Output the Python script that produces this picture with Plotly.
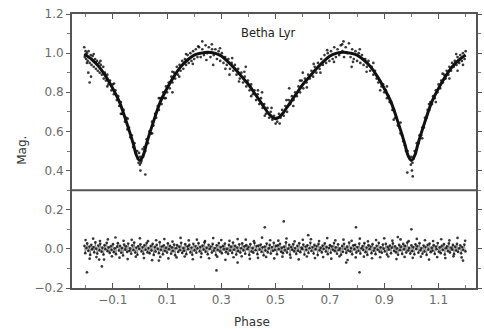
import plotly.graph_objects as go

# ---- model light curve ----
model_phase = [-0.205, -0.175, -0.15, -0.125, -0.10, -0.075, -0.05, -0.025, -0.0125, 0.00, 0.0125, 0.025,
               0.05, 0.075, 0.10, 0.125, 0.15, 0.175, 0.20, 0.225, 0.25, 0.275, 0.30, 0.325, 0.35,
               0.375, 0.40, 0.425, 0.45, 0.475, 0.4875, 0.50, 0.5125, 0.525, 0.55, 0.575, 0.60,
               0.625, 0.65, 0.675, 0.70, 0.725, 0.75, 0.775, 0.80, 0.825, 0.85, 0.875, 0.90, 0.925,
               0.95, 0.975, 0.9875, 1.00, 1.0125, 1.025, 1.05, 1.075, 1.10, 1.125, 1.15, 1.175, 1.20]
model_mag = [0.995, 0.965, 0.93, 0.88, 0.82, 0.75, 0.65, 0.54, 0.478, 0.452, 0.478, 0.54,
             0.65, 0.75, 0.82, 0.88, 0.93, 0.965, 0.99, 1.00, 1.005, 1.00, 0.985, 0.955, 0.92,
             0.88, 0.84, 0.79, 0.74, 0.69, 0.673, 0.665, 0.673, 0.69, 0.74, 0.79, 0.84,
             0.88, 0.92, 0.955, 0.985, 1.00, 1.005, 1.00, 0.99, 0.965, 0.93, 0.88, 0.82, 0.75,
             0.65, 0.54, 0.478, 0.452, 0.478, 0.54, 0.65, 0.75, 0.82, 0.88, 0.93, 0.965, 0.99]

# ---- observed points (upper panel) ----
obs_phase = [-0.205, -0.203, -0.200, -0.198, -0.195, -0.192, -0.189, -0.185, -0.181, -0.178,
             -0.174, -0.170, -0.165, -0.162, -0.158, -0.155, -0.150, -0.148, -0.144, -0.140,
             -0.135, -0.133, -0.129, -0.125, -0.120, -0.116, -0.110, -0.105, -0.100, -0.096,
             -0.090, -0.085, -0.080, -0.076, -0.070, -0.066, -0.060, -0.055, -0.050, -0.046,
             -0.040, -0.035, -0.030, -0.025, -0.020, -0.015, -0.010, -0.008, -0.005, -0.003,
             0.000, 0.001, 0.002, 0.004, 0.006, 0.010, 0.012, 0.016, 0.020, 0.025,
             0.030, 0.035, 0.041, 0.045, 0.050, 0.056, 0.060, 0.066, 0.070, 0.076,
             0.080, 0.086, 0.090, 0.096, 0.100, 0.106, 0.110, 0.116, 0.120, 0.126,
             0.130, 0.136, 0.140, 0.146, 0.150, 0.156, 0.160, 0.166, 0.170, 0.176,
             0.180, 0.186, 0.190, 0.196, 0.200, 0.206, 0.212, 0.218, 0.224, 0.230,
             0.236, 0.242, 0.248, 0.254, 0.260, 0.266, 0.272, 0.278, 0.284, 0.290,
             0.296, 0.302, 0.308, 0.314, 0.320, 0.326, 0.332, 0.338, 0.344, 0.350,
             0.356, 0.362, 0.368, 0.374, 0.380, 0.386, 0.392, 0.398, 0.404, 0.410,
             0.416, 0.422, 0.428, 0.434, 0.440, 0.446, 0.452, 0.458, 0.464, 0.470,
             0.476, 0.482, 0.488, 0.494, 0.500, 0.503, 0.506, 0.512, 0.518, 0.524,
             0.530, 0.536, 0.542, 0.548, 0.554, 0.560, 0.566, 0.572, 0.578, 0.584,
             0.590, 0.596, 0.602, 0.608, 0.614, 0.620, 0.626, 0.632, 0.638, 0.644,
             0.650, 0.656, 0.662, 0.668, 0.674, 0.680, 0.686, 0.692, 0.698, 0.704,
             0.710, 0.716, 0.722, 0.728, 0.734, 0.740, 0.746, 0.752, 0.758, 0.764,
             0.770, 0.776, 0.782, 0.788, 0.794, 0.800, 0.806, 0.812, 0.818, 0.824,
             0.830, 0.836, 0.842, 0.848, 0.854, 0.860, 0.866, 0.872, 0.878, 0.884,
             0.890, 0.896, 0.900, 0.906, 0.910, 0.916, 0.920, 0.926, 0.930, 0.936,
             0.940, 0.946, 0.950, 0.956, 0.960, 0.966, 0.970, 0.976, 0.980, 0.986,
             0.990, 0.994, 0.998, 1.000, 1.002, 1.004, 1.008, 1.012, 1.016, 1.020,
             1.026, 1.030, 1.036, 1.040, 1.046, 1.050, 1.056, 1.060, 1.066, 1.070,
             1.076, 1.080, 1.086, 1.090, 1.096, 1.100, 1.106, 1.110, 1.116, 1.120,
             1.126, 1.130, 1.136, 1.140, 1.146, 1.150, 1.156, 1.160, 1.166, 1.170,
             1.176, 1.180, 1.186, 1.190, 1.196, 1.200,
             -0.190, -0.180, 0.020, 0.985, 1.005, 0.270, 0.330, 0.390, 0.550, 0.120,
             0.450, 0.600, 0.780, 1.170, 0.750, 0.230, -0.185,
             -0.195, -0.170, -0.145, -0.120, -0.095, -0.070, -0.045, 0.045, 0.070, 0.095,
             0.120, 0.145, 0.170, 0.195, 0.215, 0.245, 0.265, 0.295, 0.315, 0.340,
             0.365, 0.385, 0.410, 0.435, 0.460, 0.485, 0.515, 0.540, 0.565, 0.590,
             0.615, 0.640, 0.665, 0.690, 0.715, 0.745, 0.785, 0.810, 0.835, 0.860,
             0.885, 0.910, 0.935, 0.960, 1.040, 1.065, 1.090, 1.115, 1.140, 1.165, 1.190]
obs_mag = [1.03, 0.98, 1.01, 0.97, 1.00, 0.96, 1.01, 0.95, 0.99, 0.94,
           0.985, 0.93, 0.97, 0.92, 0.96, 0.91, 0.95, 0.90, 0.94, 0.89,
           0.93, 0.87, 0.90, 0.86, 0.89, 0.84, 0.86, 0.81, 0.84, 0.79,
           0.81, 0.76, 0.78, 0.73, 0.75, 0.69, 0.71, 0.65, 0.67, 0.61,
           0.62, 0.57, 0.58, 0.52, 0.54, 0.49, 0.50, 0.46, 0.44, 0.49,
           0.43, 0.47, 0.40, 0.44, 0.45, 0.51, 0.47, 0.52, 0.50, 0.56,
           0.54, 0.60, 0.59, 0.65, 0.63, 0.69, 0.67, 0.73, 0.71, 0.77,
           0.74, 0.80, 0.77, 0.83, 0.80, 0.85, 0.82, 0.88, 0.85, 0.90,
           0.87, 0.93, 0.89, 0.94, 0.91, 0.96, 0.92, 0.97, 0.94, 0.99,
           0.95, 1.00, 0.96, 1.01, 0.97, 1.02, 0.98, 1.03, 0.98, 1.02,
           0.99, 1.04, 1.00, 1.03, 0.98, 1.02, 0.99, 1.02, 0.97, 1.01,
           0.96, 1.00, 0.95, 0.98, 0.94, 0.97, 0.92, 0.95, 0.91, 0.94,
           0.89, 0.92, 0.87, 0.90, 0.85, 0.88, 0.83, 0.86, 0.81, 0.84,
           0.79, 0.81, 0.76, 0.79, 0.74, 0.77, 0.72, 0.74, 0.69, 0.72,
           0.67, 0.70, 0.66, 0.68, 0.64, 0.67, 0.65, 0.69, 0.67, 0.71,
           0.68, 0.73, 0.70, 0.76, 0.74, 0.78, 0.76, 0.80, 0.78, 0.83,
           0.80, 0.86, 0.82, 0.87, 0.85, 0.89, 0.87, 0.91, 0.88, 0.93,
           0.90, 0.95, 0.92, 0.97, 0.94, 0.99, 0.95, 1.00, 0.96, 1.01,
           0.97, 1.03, 0.98, 1.02, 0.99, 1.04, 1.01, 0.98, 1.03, 1.00,
           1.05, 0.98, 1.02, 0.97, 1.01, 0.96, 1.00, 0.95, 0.99, 0.94,
           0.97, 0.93, 0.96, 0.91, 0.93, 0.89, 0.91, 0.87, 0.85, 0.86,
           0.83, 0.84, 0.80, 0.81, 0.77, 0.78, 0.75, 0.75, 0.71, 0.71,
           0.67, 0.67, 0.63, 0.62, 0.59, 0.58, 0.55, 0.53, 0.50, 0.50,
           0.47, 0.46, 0.43, 0.47, 0.40, 0.44, 0.46, 0.50, 0.49, 0.54,
           0.54, 0.58, 0.58, 0.62, 0.62, 0.67, 0.67, 0.71, 0.71, 0.75,
           0.74, 0.78, 0.77, 0.81, 0.80, 0.84, 0.82, 0.86, 0.85, 0.89,
           0.87, 0.91, 0.89, 0.93, 0.91, 0.95, 0.93, 0.96, 0.94, 0.98,
           0.95, 0.99, 0.96, 1.00, 0.97, 1.01,
           0.90, 0.88, 0.38, 0.39, 0.37, 0.94, 0.89, 0.93, 0.82, 0.80,
           0.80, 0.90, 0.93, 0.91, 1.06, 1.06, 0.85,
           0.95, 0.995, 0.96, 0.83, 0.845, 0.69, 0.665, 0.59, 0.77, 0.77,
           0.905, 0.88, 0.995, 0.945, 1.035, 0.965, 1.045, 1.025, 0.92, 0.975,
           0.855, 0.905, 0.78, 0.81, 0.68, 0.72, 0.64, 0.76, 0.73, 0.86,
           0.825, 0.945, 0.90, 1.015, 0.955, 1.045, 0.955, 1.02, 0.905, 0.95,
           0.81, 0.83, 0.66, 0.645, 0.565, 0.74, 0.75, 0.895, 0.87, 0.995, 0.94]

# ---- residuals (lower panel) ----
res_phase = [-0.204, -0.201, -0.197, -0.194, -0.190, -0.186, -0.183, -0.179, -0.176, -0.171,
             -0.168, -0.164, -0.161, -0.157, -0.153, -0.149, -0.146, -0.141, -0.138, -0.134,
             -0.130, -0.127, -0.122, -0.119, -0.115, -0.111, -0.107, -0.104, -0.099, -0.096,
             -0.092, -0.088, -0.084, -0.081, -0.077, -0.073, -0.069, -0.066, -0.062, -0.058,
             -0.054, -0.051, -0.047, -0.043, -0.039, -0.036, -0.032, -0.028, -0.024, -0.021,
             -0.017, -0.013, -0.009, -0.006, -0.002, 0.002, 0.006, 0.010, 0.013, 0.017,
             0.021, 0.025, 0.028, 0.032, 0.036, 0.040, 0.043, 0.047, 0.051, 0.055,
             0.058, 0.062, 0.066, 0.070, 0.073, 0.077, 0.081, 0.085, 0.088, 0.092,
             0.096, 0.100, 0.103, 0.107, 0.111, 0.115, 0.118, 0.122, 0.126, 0.130,
             0.133, 0.137, 0.141, 0.145, 0.148, 0.152, 0.156, 0.160, 0.163, 0.167,
             0.171, 0.175, 0.178, 0.182, 0.186, 0.190, 0.193, 0.197, 0.201, 0.205,
             0.208, 0.212, 0.216, 0.220, 0.223, 0.227, 0.231, 0.235, 0.238, 0.242,
             0.246, 0.250, 0.253, 0.257, 0.261, 0.265, 0.268, 0.272, 0.276, 0.280,
             0.283, 0.287, 0.291, 0.295, 0.298, 0.302, 0.306, 0.310, 0.313, 0.317,
             0.321, 0.325, 0.328, 0.332, 0.336, 0.340, 0.343, 0.347, 0.351, 0.355,
             0.358, 0.362, 0.366, 0.370, 0.373, 0.377, 0.381, 0.385, 0.388, 0.392,
             0.396, 0.400, 0.403, 0.407, 0.411, 0.415, 0.418, 0.422, 0.426, 0.430,
             0.433, 0.437, 0.441, 0.445, 0.448, 0.452, 0.456, 0.460, 0.463, 0.467,
             0.471, 0.475, 0.478, 0.482, 0.486, 0.490, 0.493, 0.497, 0.501, 0.505,
             0.508, 0.512, 0.516, 0.520, 0.523, 0.527, 0.531, 0.535, 0.538, 0.542,
             0.546, 0.550, 0.553, 0.557, 0.561, 0.565, 0.568, 0.572, 0.576, 0.580,
             0.583, 0.587, 0.591, 0.595, 0.598, 0.602, 0.606, 0.610, 0.613, 0.617,
             0.621, 0.625, 0.628, 0.632, 0.636, 0.640, 0.643, 0.647, 0.651, 0.655,
             0.658, 0.662, 0.666, 0.670, 0.673, 0.677, 0.681, 0.685, 0.688, 0.692,
             0.696, 0.700, 0.703, 0.707, 0.711, 0.715, 0.718, 0.722, 0.726, 0.730,
             0.733, 0.737, 0.741, 0.745, 0.748, 0.752, 0.756, 0.760, 0.763, 0.767,
             0.771, 0.775, 0.778, 0.782, 0.786, 0.790, 0.793, 0.797, 0.801, 0.805,
             0.808, 0.812, 0.816, 0.820, 0.823, 0.827, 0.831, 0.835, 0.838, 0.842,
             0.846, 0.850, 0.853, 0.857, 0.861, 0.865, 0.868, 0.872, 0.876, 0.880,
             0.883, 0.887, 0.891, 0.895, 0.898, 0.902, 0.906, 0.910, 0.913, 0.917,
             0.921, 0.925, 0.928, 0.932, 0.936, 0.940, 0.943, 0.947, 0.951, 0.955,
             0.958, 0.962, 0.966, 0.970, 0.973, 0.977, 0.981, 0.985, 0.988, 0.992,
             0.996, 1.000, 1.003, 1.007, 1.011, 1.015, 1.018, 1.022, 1.026, 1.030,
             1.033, 1.037, 1.041, 1.045, 1.048, 1.052, 1.056, 1.060, 1.063, 1.067,
             1.071, 1.075, 1.078, 1.082, 1.086, 1.090, 1.093, 1.097, 1.101, 1.105,
             1.108, 1.112, 1.116, 1.120, 1.123, 1.127, 1.131, 1.135, 1.138, 1.142,
             1.146, 1.150, 1.153, 1.157, 1.161, 1.165, 1.168, 1.172, 1.176, 1.180,
             1.183, 1.187, 1.191, 1.195, 1.199]
res_val = [0.015, -0.022, 0.004, 0.028, -0.010, 0.012, -0.031, 0.021, -0.003, 0.009,
           -0.018, 0.033, 0.001, -0.024, 0.017, -0.008, 0.026, -0.015, 0.006, -0.029,
           0.019, -0.002, 0.031, -0.012, 0.008, -0.021, 0.014, -0.006, 0.024, -0.017,
           0.003, -0.027, 0.011, 0.029, -0.009, 0.016, -0.020, 0.005, -0.034, 0.022,
           -0.004, 0.013, -0.016, 0.027, -0.011, 0.002, -0.025, 0.018, -0.007, 0.032,
           -0.019, 0.007, -0.030, 0.014, -0.001, 0.023, -0.013, 0.009, -0.026, 0.019,
           -0.005, 0.030, -0.018, 0.004, -0.023, 0.015, -0.009, 0.025, -0.031, 0.010,
           -0.014, 0.021, 0.000, -0.022, 0.034, -0.006, 0.012, -0.028, 0.018, -0.011,
           0.006, -0.019, 0.028, -0.003, 0.016, -0.025, 0.008, -0.012, 0.022, -0.033,
           0.003, 0.019, -0.016, 0.011, -0.007, 0.031, -0.021, 0.005, -0.010, 0.024,
           -0.027, 0.013, -0.002, 0.020, -0.018, 0.007, -0.030, 0.026, -0.008, 0.014,
           -0.020, 0.002, 0.029, -0.013, 0.010, -0.024, 0.017, -0.004, 0.033, -0.015,
           0.006, -0.028, 0.021, -0.001, 0.012, -0.019, 0.025, -0.010, 0.004, -0.032,
           0.018, -0.006, 0.030, -0.014, 0.009, -0.023, 0.015, -0.003, 0.027, -0.017,
           0.001, -0.026, 0.020, -0.009, 0.011, -0.021, 0.032, -0.005, 0.016, -0.029,
           0.007, -0.012, 0.023, -0.019, 0.003, 0.028, -0.008, 0.013, -0.025, 0.019,
           -0.002, 0.010, -0.031, 0.024, -0.014, 0.005, -0.020, 0.030, -0.007, 0.014,
           -0.027, 0.017, -0.004, 0.022, -0.016, 0.008, -0.033, 0.012, -0.009, 0.027,
           -0.018, 0.002, 0.020, -0.024, 0.009, -0.011, 0.031, -0.006, 0.015, -0.028,
           0.018, -0.003, 0.026, -0.015, 0.006, -0.022, 0.011, -0.008, 0.033, -0.019,
           0.001, 0.021, -0.030, 0.010, -0.005, 0.024, -0.013, 0.004, -0.026, 0.016,
           -0.010, 0.029, -0.017, 0.007, -0.002, 0.022, -0.029, 0.012, -0.006, 0.018,
           -0.021, 0.003, 0.031, -0.011, 0.009, -0.024, 0.020, -0.003, 0.014, -0.032,
           0.025, -0.008, 0.006, -0.018, 0.017, -0.001, 0.028, -0.014, 0.010, -0.027,
           0.004, 0.019, -0.020, 0.013, -0.005, 0.030, -0.012, 0.008, -0.025, 0.023,
           -0.007, 0.002, -0.030, 0.015, -0.016, 0.026, 0.000, -0.021, 0.011, -0.009,
           0.032, -0.014, 0.005, -0.028, 0.018, -0.003, 0.021, -0.019, 0.009, -0.011,
           0.027, -0.024, 0.003, 0.014, -0.006, 0.029, -0.017, 0.007, -0.031, 0.019,
           -0.002, 0.012, -0.022, 0.024, -0.010, 0.004, -0.027, 0.016, -0.005, 0.031,
           -0.015, 0.008, -0.020, 0.022, 0.001, -0.013, 0.026, -0.029, 0.010, -0.004,
           0.017, -0.023, 0.006, 0.028, -0.011, 0.013, -0.018, 0.002, -0.030, 0.020,
           -0.007, 0.011, -0.026, 0.025, -0.003, 0.015, -0.019, 0.032, -0.009, 0.005,
           -0.024, 0.018, -0.012, 0.009, -0.028, 0.023, -0.001, 0.014, -0.020, 0.029,
           -0.008, 0.004, -0.025, 0.017, -0.014, 0.010, -0.031, 0.021, -0.004, 0.027,
           -0.017, 0.006, -0.010, 0.019, -0.026, 0.012, -0.002, 0.030, -0.015, 0.008,
           -0.022, 0.016, -0.006, 0.024, -0.029, 0.003, 0.013, -0.012, 0.028, -0.019,
           0.007, -0.004, 0.020, -0.027, 0.011, -0.009, 0.025, -0.016, 0.002, 0.018,
           -0.023, 0.009, -0.006, 0.022, -0.013]

# wider residual scatter and isolated outliers
res_wide_phase = [-0.200, -0.185, -0.172, -0.160, -0.147, -0.132, -0.118, -0.103, -0.090, -0.075,
                  -0.060, -0.045, -0.030, -0.015, 0.000, 0.015, 0.030, 0.045, 0.060, 0.075,
                  0.090, 0.105, 0.120, 0.135, 0.150, 0.165, 0.180, 0.195, 0.210, 0.225,
                  0.240, 0.255, 0.270, 0.285, 0.300, 0.315, 0.330, 0.345, 0.360, 0.375,
                  0.390, 0.405, 0.420, 0.435, 0.450, 0.465, 0.480, 0.495, 0.510, 0.525,
                  0.540, 0.555, 0.570, 0.585, 0.600, 0.615, 0.630, 0.645, 0.660, 0.675,
                  0.690, 0.705, 0.720, 0.735, 0.750, 0.765, 0.780, 0.795, 0.810, 0.825,
                  0.840, 0.855, 0.870, 0.885, 0.900, 0.915, 0.930, 0.945, 0.960, 0.975,
                  0.990, 1.005, 1.020, 1.035, 1.050, 1.065, 1.080, 1.095, 1.110, 1.125,
                  1.140, 1.155, 1.170, 1.185, 1.198,
                  -0.195, -0.140, 0.282, 0.530, 0.460, 0.360, 0.809, 1.000, 0.796, 0.760,
                  1.190, 0.070, 0.620, -0.150, 0.950]
res_wide_val = [0.045, -0.050, 0.052, -0.042, 0.040, -0.055, 0.048, -0.038, 0.058, -0.045,
                0.041, -0.052, 0.046, -0.040, 0.054, -0.047, 0.039, -0.058, 0.044, -0.041,
                0.050, -0.049, 0.037, -0.044, 0.056, -0.039, 0.043, -0.053, 0.047, -0.042,
                0.040, -0.048, 0.055, -0.040, 0.045, -0.056, 0.041, -0.043, 0.050, -0.038,
                0.047, -0.051, 0.039, -0.046, 0.057, -0.041, 0.044, -0.049, 0.042, -0.040,
                0.053, -0.045, 0.038, -0.054, 0.046, -0.039, 0.049, -0.047, 0.040, -0.042,
                0.055, -0.050, 0.043, -0.038, 0.047, -0.057, 0.041, -0.044, 0.052, -0.040,
                0.038, -0.048, 0.045, -0.043, 0.054, -0.039, 0.042, -0.052, 0.048, -0.041,
                0.039, -0.046, 0.051, -0.040, 0.044, -0.055, 0.040, -0.042, 0.049, -0.047,
                0.043, -0.038, 0.056, -0.044, 0.041,
                -0.120, -0.090, -0.110, 0.140, 0.110, -0.070, -0.120, 0.100, 0.110, -0.070,
                -0.060, -0.060, 0.070, -0.055, 0.060]

x_tickvals = [-0.1, 0.1, 0.3, 0.5, 0.7, 0.9, 1.1]
x_ticktext = ["\u22120.1", "0.1", "0.3", "0.5", "0.7", "0.9", "1.1"]
y_tickvals = [-0.2, 0.0, 0.2, 0.4, 0.6, 0.8, 1.0, 1.2]
y_ticktext = ["\u22120.2", "0.0", "0.2", "0.4", "0.6", "0.8", "1.0", "1.2"]
separator_y = 0.3
title_text = "Betha Lyr"

fig = go.Figure()

dot = dict(color="rgba(0,0,0,0.78)", size=2.7, line=dict(width=0))

fig.add_trace(go.Scatter(x=obs_phase, y=obs_mag, mode="markers", marker=dot,
                         showlegend=False, hoverinfo="skip"))
fig.add_trace(go.Scatter(x=model_phase, y=model_mag, mode="lines", line_shape="spline",
                         line=dict(color="#111111", width=3),
                         showlegend=False, hoverinfo="skip"))
fig.add_trace(go.Scatter(x=res_phase, y=res_val, mode="lines+markers",
                         line=dict(color="rgba(0,0,0,0.5)", width=0.8),
                         marker=dot, showlegend=False, hoverinfo="skip"))
fig.add_trace(go.Scatter(x=res_wide_phase, y=res_wide_val, mode="markers", marker=dot,
                         showlegend=False, hoverinfo="skip"))

fig.add_shape(type="line", xref="paper", x0=0, x1=1, yref="y", y0=separator_y, y1=separator_y,
              line=dict(color="#555555", width=2))

axis_font = dict(family="DejaVu Sans", size=12, color="#6a6a6a")
fig.update_xaxes(range=[-0.25, 1.238], tickvals=x_tickvals, ticktext=x_ticktext,
                 ticks="inside", ticklen=5, tickcolor="#555555", tickwidth=1,
                 minor=dict(dtick=0.1, tick0=0.0, ticks="inside", ticklen=3, tickcolor="#777777"),
                 showline=True, linecolor="#555555", linewidth=2, mirror="ticks",
                 showgrid=False, zeroline=False, tickfont=axis_font)
fig.update_yaxes(range=[-0.2, 1.2], tickvals=y_tickvals, ticktext=y_ticktext,
                 ticks="outside", ticklen=4, tickcolor="#555555", tickwidth=1,
                 minor=dict(dtick=0.1, tick0=0.0, ticks="outside", ticklen=3, tickcolor="#777777"),
                 showline=True, linecolor="#555555", linewidth=2, mirror="ticks",
                 showgrid=False, zeroline=False, tickfont=axis_font)

W, H = 484, 329
L, R, T, B = 72, 2, 14, 41
pw, ph = W - L - R, H - T - B

fig.add_annotation(x=0.475, y=1.103, xref="x", yref="y", text=title_text, showarrow=False,
                   font=dict(family="DejaVu Sans", size=11.5, color="#222222"))
fig.add_annotation(x=(255 - L) / pw, y=(H - B - 322) / ph, xref="paper", yref="paper",
                   text="Phase", showarrow=False, xanchor="center", yanchor="middle",
                   font=dict(family="DejaVu Sans", size=12, color="#333333"))
fig.add_annotation(x=(21 - L) / pw, y=(H - B - 150) / ph, xref="paper", yref="paper",
                   text="Mag.", textangle=-90, showarrow=False, xanchor="center", yanchor="middle",
                   font=dict(family="DejaVu Sans", size=12, color="#333333"))

fig.update_layout(width=W, height=H, margin=dict(l=L, r=R, t=T, b=B),
                  paper_bgcolor="white", plot_bgcolor="white")

fig.write_html("out.html")
